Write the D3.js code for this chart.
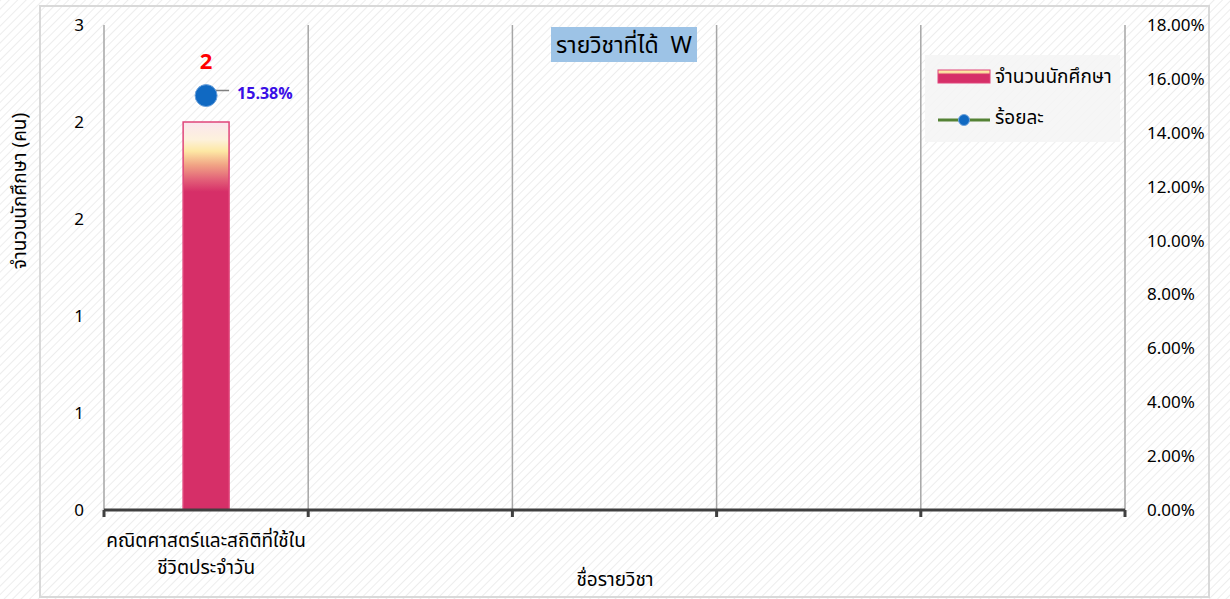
<!DOCTYPE html>
<html>
<head>
<meta charset="utf-8">
<script src="https://cdn.jsdelivr.net/npm/d3@7"></script>
<style>
  body { margin: 0; background: #fff; }
  svg { display: block; font-family: "Noto Sans Thai", "Noto Sans", "DejaVu Sans", sans-serif; }
</style>
</head>
<body>
<div id="chart"></div>
<script>
// data
const categories = ["คณิตศาสตร์และสถิติที่ใช้ใน\nชีวิตประจำวัน", "", "", "", ""];
const studentCounts = [2, null, null, null, null];
const percentages = [15.38, null, null, null, null];
const leftTicks = [0, 0.5, 1, 1.5, 2, 2.5];
const rightTicks = [0, 2, 4, 6, 8, 10, 12, 14, 16, 18];
const chartTitle = "รายวิชาที่ได้  W";
const legendLabels = ["จำนวนนักศึกษา", "ร้อยละ"];
const yTitle = "จำนวนนักศึกษา (คน)";
const xTitle = "ชื่อรายวิชา";

const width = 1230, height = 599;
const margin = {top: 25, right: 105, bottom: 89, left: 104};

const svg = d3.select("#chart").append("svg")
    .attr("width", width)
    .attr("height", height);

const defs = svg.append("defs");

// diagonal hatch background
const hatch = defs.append("pattern")
    .attr("id", "hatch")
    .attr("patternUnits", "userSpaceOnUse")
    .attr("width", 6).attr("height", 6)
    .attr("patternTransform", "rotate(45)");
hatch.append("rect").attr("width", 6).attr("height", 6).attr("fill", "#fff");
hatch.append("line").attr("x1", 0).attr("y1", 0).attr("x2", 0).attr("y2", 6)
    .attr("stroke", "#ededed").attr("stroke-width", 2);

// bar gradient
const grad = defs.append("linearGradient")
    .attr("id", "barGrad").attr("x1", 0).attr("y1", 0).attr("x2", 0).attr("y2", 1);
[[0, "#fae6ee"], [0.045, "#fdf1dc"], [0.075, "#fde8a4"], [0.11, "#f1a585"],
 [0.15, "#e25e78"], [0.18, "#d62f68"], [1, "#d62f68"]]
  .forEach(s => grad.append("stop").attr("offset", s[0]).attr("stop-color", s[1]));

const legGrad = defs.append("linearGradient")
    .attr("id", "legGrad").attr("x1", 0).attr("y1", 0).attr("x2", 0).attr("y2", 1);
[[0, "#fde8a4"], [0.18, "#fde8a4"], [0.35, "#d62f68"], [1, "#d62f68"]]
  .forEach(s => legGrad.append("stop").attr("offset", s[0]).attr("stop-color", s[1]));

svg.append("rect").attr("width", width).attr("height", height).attr("fill", "url(#hatch)");
svg.append("rect")
    .attr("x", 40).attr("y", 6).attr("width", 1169).attr("height", 591)
    .attr("fill", "none").attr("stroke", "#d9d9d9").attr("stroke-width", 2);

const innerWidth = width - margin.left - margin.right;
const innerHeight = height - margin.top - margin.bottom;

// scales
const x = d3.scaleBand().domain(d3.range(categories.length)).range([margin.left, margin.left + innerWidth]);
const yLeft = d3.scaleLinear().domain([0, 2.5]).range([margin.top + innerHeight, margin.top]);
const yRight = d3.scaleLinear().domain([0, 18]).range([margin.top + innerHeight, margin.top]);

// vertical gridlines at category boundaries
const bounds = d3.range(categories.length + 1).map(i => margin.left + i * x.step());
svg.append("g").selectAll("line").data(bounds).join("line")
    .attr("x1", d => d).attr("x2", d => d)
    .attr("y1", margin.top).attr("y2", margin.top + innerHeight)
    .attr("stroke", "#a6a6a6").attr("stroke-width", 1.5);

// left axis
const yAxisL = d3.axisLeft(yLeft).tickValues(leftTicks).tickSize(0).tickPadding(20)
    .tickFormat(d => Math.round(d));
svg.append("g").attr("transform", `translate(${margin.left},0)`).call(yAxisL)
    .attr("font-family", null).attr("font-size", 17)
    .call(g => g.select(".domain").remove())
    .call(g => g.selectAll(".tick line").remove())
    .selectAll("text").attr("fill", "#000");

// right axis
const yAxisR = d3.axisRight(yRight).tickValues(rightTicks).tickSize(0).tickPadding(22)
    .tickFormat(d => d3.format(".2f")(d) + "%");
svg.append("g").attr("transform", `translate(${margin.left + innerWidth},0)`).call(yAxisR)
    .attr("font-family", null).attr("font-size", 17)
    .call(g => g.select(".domain").remove())
    .call(g => g.selectAll(".tick line").remove())
    .selectAll("text").attr("fill", "#000");

// bars
const bw = x.bandwidth() * 0.225;
svg.append("g").selectAll("rect")
  .data(studentCounts.map((v, i) => ({v, i})).filter(d => d.v != null))
  .join("rect")
    .attr("x", d => x(d.i) + x.bandwidth() / 2 - bw / 2)
    .attr("y", d => yLeft(d.v))
    .attr("width", bw)
    .attr("height", d => yLeft(0) - yLeft(d.v))
    .attr("fill", "url(#barGrad)")
    .attr("stroke", "#e0457a").attr("stroke-width", 1.5);

// x axis line with tick marks
svg.append("line")
    .attr("x1", margin.left).attr("x2", margin.left + innerWidth)
    .attr("y1", yLeft(0)).attr("y2", yLeft(0))
    .attr("stroke", "#404040").attr("stroke-width", 3);
svg.append("g").selectAll("line").data(bounds).join("line")
    .attr("x1", d => d).attr("x2", d => d)
    .attr("y1", yLeft(0)).attr("y2", yLeft(0) + 7)
    .attr("stroke", "#404040").attr("stroke-width", 3);

// category labels
svg.append("g").selectAll("text").data(categories).join("text")
    .attr("x", (d, i) => x(i) + x.bandwidth() / 2)
    .attr("y", yLeft(0) + 37)
    .attr("text-anchor", "middle").attr("font-size", 19).attr("fill", "#000")
    .selectAll("tspan").data(d => d ? d.split("\n") : []).join("tspan")
    .attr("x", function() { return this.parentNode.getAttribute("x"); })
    .attr("dy", (d, j) => j ? 27 : 0)
    .text(d => d);

// line series
const pts = percentages.map((v, i) => ({v, i}));
const line = d3.line().defined(d => d.v != null)
    .x(d => x(d.i) + x.bandwidth() / 2).y(d => yRight(d.v));
svg.append("path").datum(pts).attr("d", line)
    .attr("fill", "none").attr("stroke", "#548235").attr("stroke-width", 3);

// leader lines and labels for percentages
const ptData = pts.filter(d => d.v != null);
const lbl = svg.append("g");
ptData.forEach(d => {
  const cx = x(d.i) + x.bandwidth() / 2, cy = yRight(d.v);
  lbl.append("path")
      .attr("d", `M${cx},${cy} L${cx + 9},${cy - 5} L${cx + 23},${cy - 5}`)
      .attr("fill", "none").attr("stroke", "#808080").attr("stroke-width", 1.5);
  lbl.append("circle").attr("cx", cx).attr("cy", cy).attr("r", 11)
      .attr("fill", "#1069c2").attr("stroke", "#6fa3dc").attr("stroke-width", 1);
  lbl.append("text").attr("x", cx + 31).attr("y", cy + 3)
      .attr("font-size", 16).attr("font-weight", "bold").attr("fill", "#3a0fe6")
      .text(d3.format(".2f")(d.v) + "%");
});

// bar value labels
svg.append("g").selectAll("text")
  .data(studentCounts.map((v, i) => ({v, i})).filter(d => d.v != null))
  .join("text")
    .attr("x", d => x(d.i) + x.bandwidth() / 2)
    .attr("y", d => yLeft(d.v) - 53)
    .attr("text-anchor", "middle").attr("font-size", 22).attr("font-weight", "bold")
    .attr("fill", "#ff0000")
    .text(d => d.v);

// title
const tg = svg.append("g");
tg.append("rect").attr("x", 551).attr("y", 27).attr("width", 146).attr("height", 35)
    .attr("fill", "#9dc3e6");
tg.append("text").attr("x", 624).attr("y", 53).attr("text-anchor", "middle")
    .attr("font-size", 23).attr("fill", "#000").attr("xml:space", "preserve")
    .text(chartTitle);

// legend
const lg = svg.append("g");
lg.append("rect").attr("x", 925).attr("y", 55).attr("width", 195).attr("height", 87)
    .attr("fill", "#f4f4f4").attr("opacity", 0.85);
lg.append("rect").attr("x", 938).attr("y", 70).attr("width", 52).attr("height", 13)
    .attr("fill", "url(#legGrad)").attr("stroke", "#e0457a").attr("stroke-width", 1);
lg.append("text").attr("x", 995).attr("y", 83).attr("font-size", 19).attr("fill", "#000")
    .text(legendLabels[0]);
lg.append("line").attr("x1", 938).attr("x2", 990).attr("y1", 120).attr("y2", 120)
    .attr("stroke", "#548235").attr("stroke-width", 3);
lg.append("circle").attr("cx", 964).attr("cy", 120).attr("r", 5.5)
    .attr("fill", "#1069c2").attr("stroke", "#6fa3dc");
lg.append("text").attr("x", 995).attr("y", 124).attr("font-size", 19).attr("fill", "#000")
    .text(legendLabels[1]);

// axis titles
svg.append("text")
    .attr("transform", "translate(26,191) rotate(-90)")
    .attr("text-anchor", "middle").attr("font-size", 19).attr("fill", "#000")
    .text(yTitle);
svg.append("text").attr("x", 615).attr("y", 586)
    .attr("text-anchor", "middle").attr("font-size", 19).attr("fill", "#000")
    .text(xTitle);
</script>
</body>
</html>
